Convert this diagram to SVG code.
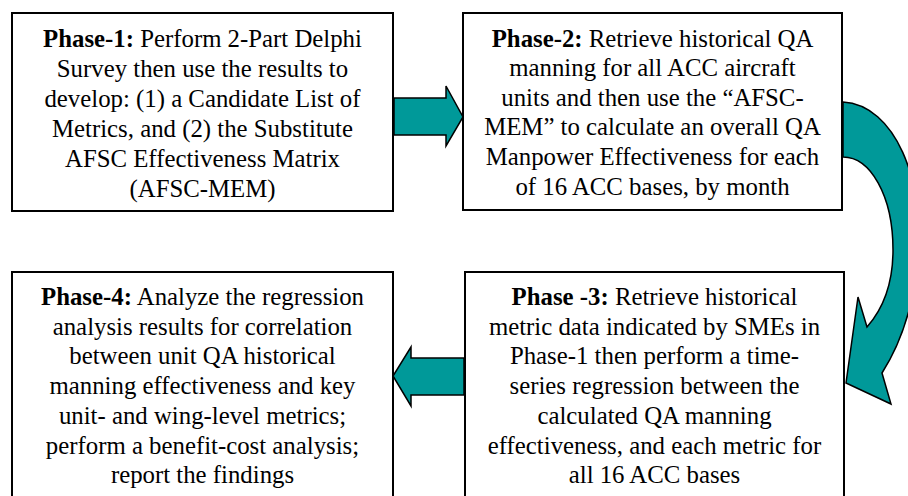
<svg xmlns="http://www.w3.org/2000/svg" width="908" height="496" viewBox="0 0 908 496">
<style>
.box{fill:#ffffff;stroke:#000000;stroke-width:2}
.arr{fill:#009999;stroke:#000000;stroke-width:1.5;stroke-linejoin:miter}
text{font-family:"Liberation Serif","Times New Roman",serif;font-size:24.8px;fill:#000000;text-anchor:middle}
.b{font-weight:bold}
</style>
<rect width="908" height="496" fill="#ffffff"/>
<g id="phase1">
<rect class="box" x="12" y="13" width="381" height="198"/>
<text x="202.5" y="46.5"><tspan class="b">Phase-1:</tspan> Perform 2-Part Delphi</text>
<text x="202.5" y="76.5">Survey then use the results to</text>
<text x="202.5" y="106.5">develop: (1) a Candidate List of</text>
<text x="202.5" y="136.5">Metrics, and (2) the Substitute</text>
<text x="202.5" y="166.5">AFSC Effectiveness Matrix</text>
<text x="202.5" y="196.5">(AFSC-MEM)</text>
</g>
<g id="phase2">
<rect class="box" x="463" y="13" width="379" height="197"/>
<text x="652.5" y="46.5"><tspan class="b">Phase-2:</tspan> Retrieve historical QA</text>
<text x="652.5" y="76">manning for all ACC aircraft</text>
<text x="652.5" y="105.5">units and then use the “AFSC-</text>
<text x="652.5" y="135">MEM” to calculate an overall QA</text>
<text x="652.5" y="165">Manpower Effectiveness for each</text>
<text x="652.5" y="195">of 16 ACC bases, by month</text>
</g>
<g id="phase3">
<rect class="box" x="465" y="272" width="379" height="240"/>
<text x="654.5" y="305"><tspan class="b">Phase -3:</tspan> Retrieve historical</text>
<text x="654.5" y="334.7">metric data indicated by SMEs in</text>
<text x="654.5" y="364.4">Phase-1 then perform a time-</text>
<text x="654.5" y="394.1">series regression between the</text>
<text x="654.5" y="423.8">calculated QA manning</text>
<text x="654.5" y="453.5">effectiveness, and each metric for</text>
<text x="654.5" y="483.2">all 16 ACC bases</text>
</g>
<g id="phase4">
<rect class="box" x="12" y="272" width="381" height="240"/>
<text x="202.5" y="305"><tspan class="b">Phase-4:</tspan> Analyze the regression</text>
<text x="202.5" y="334.7">analysis results for correlation</text>
<text x="202.5" y="364.4">between unit QA historical</text>
<text x="202.5" y="394.1">manning effectiveness and key</text>
<text x="202.5" y="423.8">unit- and wing-level metrics;</text>
<text x="202.5" y="453.5">perform a benefit-cost analysis;</text>
<text x="202.5" y="483.2">report the findings</text>
</g>
<g id="connectors">
<polygon class="arr" points="394,98 446,98 446,86 463,117 446,146 446,135 394,135"/>
<path class="arr" d="M843,102 C895,105 925,180 918,260 C913,310 900,345 882,373 L891,404 L846,383 L858,297 L867,327 C882,310 893,285 893,250 C893,195 870,157 843,157 Z"/>
<polygon class="arr" points="464,358 411,358 411,347 393,376 411,406 411,395 464,395"/>
</g>
</svg>
